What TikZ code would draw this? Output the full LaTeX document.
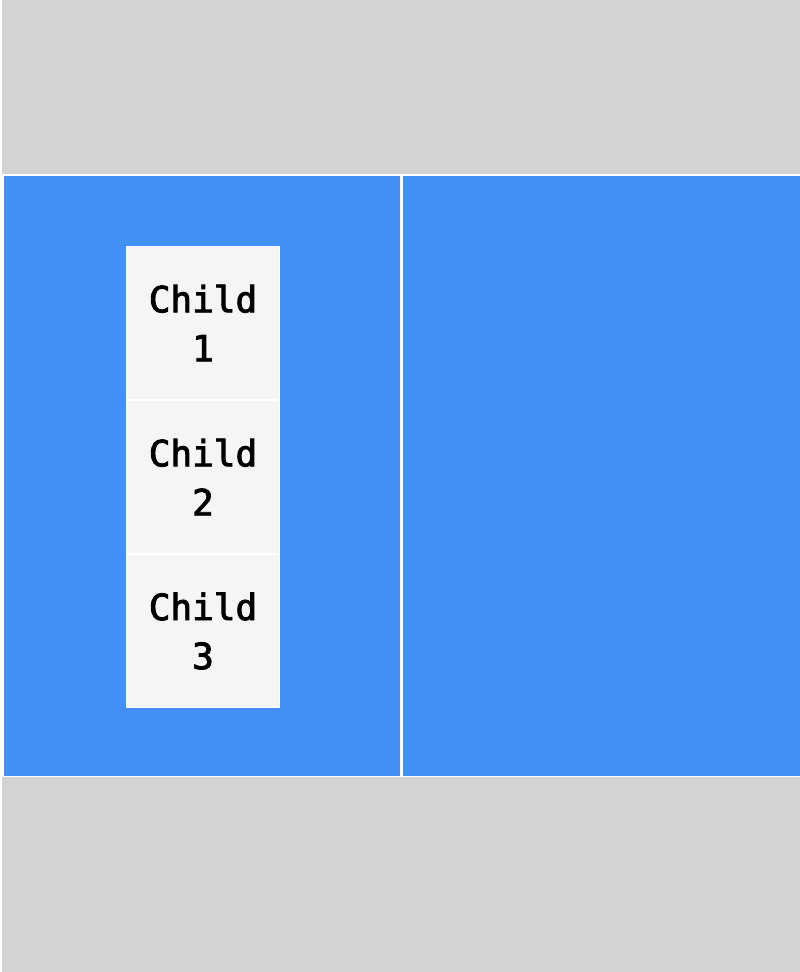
\documentclass[tikz,border=0pt]{standalone}
\usepackage{fontspec}
\newfontfamily\childfont[FakeBold=2.5]{DejaVu Sans Mono}
\usepackage{xcolor}
\usetikzlibrary{positioning}
\definecolor{bggray}{HTML}{D3D3D3}
\definecolor{panelblue}{HTML}{4290F5}
\definecolor{childgray}{HTML}{F5F5F5}

\begin{document}
\begin{tikzpicture}
        [ x=1pt, y=-1pt, node distance=2pt,
          every node/.style = {inner sep=0pt, outer sep=0pt},
          panel node/.style = {fill=panelblue, anchor=north west,
                               minimum width=396pt, minimum height=600pt},
          child node/.style = {fill=childgray, align=center,
                               minimum width=152pt, minimum height=152pt,
                               font=\childfont\fontsize{36}{49}\selectfont}]
        \useasboundingbox (0,0) rectangle (800,972);
        \fill[white] (0,0) rectangle (800,972);
        \fill[bggray] (2,0) rectangle (800,972);
        \fill[white] (2,174) rectangle (800,777);
        \node[panel node] (left panel) at (4,176) {};
        \node[panel node, minimum width=397pt] (right panel) at (403,176) {};
        \fill[white!98!childgray] (126,246) rectangle (280,708);
        \node[child node, anchor=north west] (child 1) at (127,247) {Child\\1};
        \node[child node, below=of child 1] (child 2) {Child\\2};
        \node[child node, below=of child 2] (child 3) {Child\\3};
    \end{tikzpicture}
\end{document}
